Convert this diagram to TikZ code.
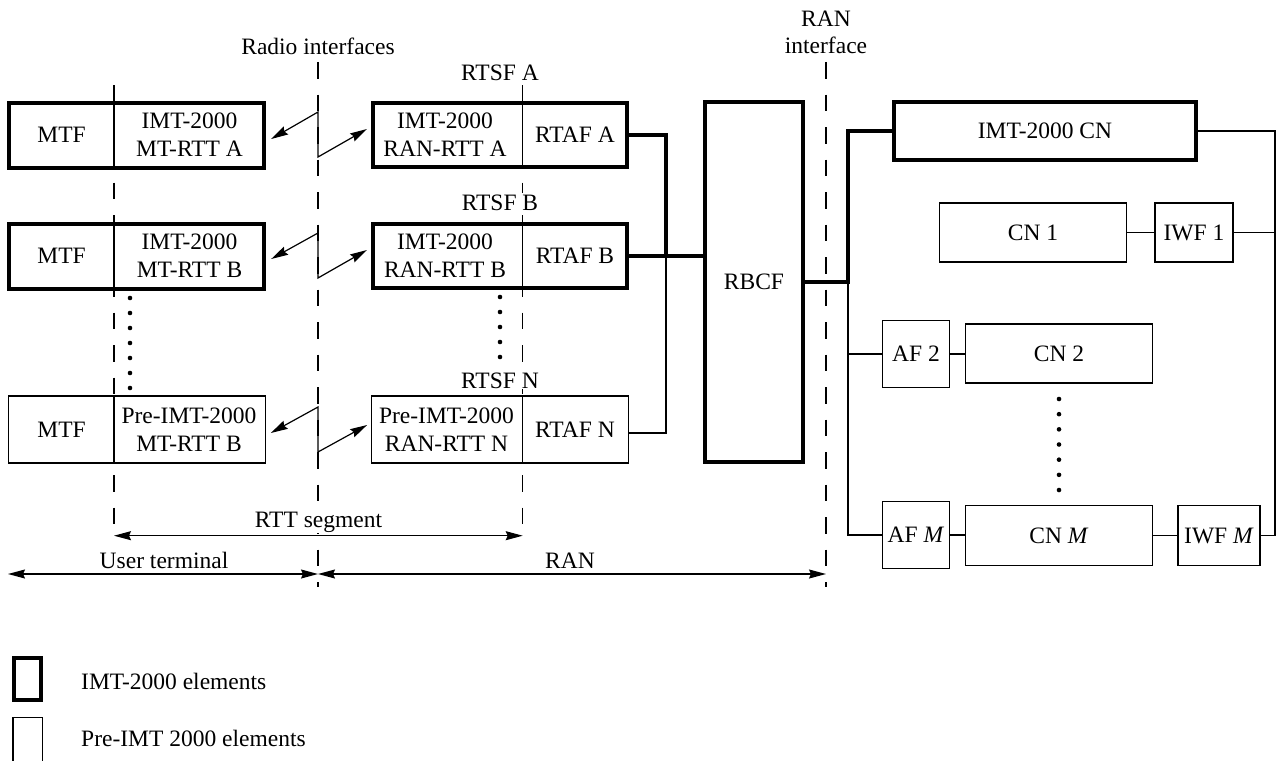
\documentclass[tikz,border=0pt]{standalone}
\usepackage{fontspec}
\setmainfont{Liberation Serif}
\usetikzlibrary{arrows.meta}
\begin{document}
\begin{tikzpicture}[x=1pt,y=-1pt,
  every node/.style={font=\fontsize{23.5}{27.7}\selectfont, inner sep=0pt},
  tbx/.style={draw, line width=4pt},
  bx/.style={draw, line width=1.2pt},
  thinline/.style={line width=1.2pt},
  thickline/.style={line width=4pt},
  dashln/.style={line width=1.2pt, dash pattern=on 16.5pt off 16pt},
  dbl/.style={line width=1.2pt, {Stealth[length=17pt,width=9pt,inset=2pt]}-{Stealth[length=17pt,width=9pt,inset=2pt]}},
  lbl/.style={fill=white, inner sep=1pt, anchor=base},
  dotm/.style={circle, fill, minimum size=4.6pt, inner sep=0pt}
]
\useasboundingbox (0,0) rectangle (1276,760);

% dashed interface lines
\coordinate (d1t) at (114,85);  \coordinate (d1b) at (114,540);
\coordinate (d2t) at (318,62);  \coordinate (d2b) at (318,587);
\coordinate (d3t) at (522.7,85);  \coordinate (d3b) at (522.7,540);
\coordinate (d4t) at (826,62);  \coordinate (d4b) at (826,587);
\draw[dashln] (d1t) -- (d1b);
\draw[dashln] (d2t) -- (d2b);
\draw[dashln] (d3t) -- (d3b);
\draw[dashln] (d4t) -- (d4b);

% top labels
\node[anchor=base] (lradio) at (318,55) {Radio interfaces};
\node[align=center] (lranif) at (826,32.5) {RAN\\interface};

% mobile terminal boxes
\node[tbx, minimum width=255pt, minimum height=65pt] (mA) at (136.7,135) {};
\node (mtfA) at (61.6,135) {MTF};
\node[align=center] (rttA) at (189.5,135) {IMT-2000\\MT-RTT A};
\draw[thinline] (mA.north -| d1t) -- (mA.south -| d1t);

\node[tbx, minimum width=255pt, minimum height=65pt] (mB) at (136.7,256) {};
\node (mtfB) at (61.6,256) {MTF};
\node[align=center] (rttB) at (189.5,256) {IMT-2000\\MT-RTT B};
\draw[thinline] (mB.north -| d1t) -- (mB.south -| d1t);

\node[bx, minimum width=257pt, minimum height=67pt] (mN) at (136.7,429.5) {};
\node (mtfN) at (61.6,429.5) {MTF};
\node[align=center] (rttN) at (189,429.5) {Pre-IMT-2000\\MT-RTT B};
\draw[thinline] (mN.north -| d1t) -- (mN.south -| d1t);

% RAN RTSF boxes
\node[lbl] (lsA) at (500,80) {RTSF A};
\node[tbx, minimum width=254pt, minimum height=64pt] (rA) at (500,134.5) {};
\node[align=center] (rrA) at (445,134.5) {IMT-2000\\RAN-RTT A};
\node (afA) at (575,134.5) {RTAF A};
\draw[thinline] (rA.north -| d3t) -- (rA.south -| d3t);

\node[lbl] (lsB) at (500,210) {RTSF B};
\node[tbx, minimum width=254pt, minimum height=64pt] (rB) at (500,256) {};
\node[align=center] (rrB) at (445,256) {IMT-2000\\RAN-RTT B};
\node (afB) at (575,256) {RTAF B};
\draw[thinline] (rB.north -| d3t) -- (rB.south -| d3t);

\node[lbl] (lsN) at (500,388) {RTSF N};
\node[bx, minimum width=256.6pt, minimum height=67pt] (rN) at (500,429.5) {};
\node[align=center] (rrN) at (446.5,429.5) {Pre-IMT-2000\\RAN-RTT N};
\node (afN) at (575,429.5) {RTAF N};
\draw[thinline] (rN.north -| d3t) -- (rN.south -| d3t);

% radio links
\coordinate (zAt) at (318,112); \coordinate (zAb) at (318,157);
\coordinate (zBt) at (318,233); \coordinate (zBb) at (318,278);
\coordinate (zNt) at (318,407); \coordinate (zNb) at (318,452);
\draw[dbl] ([xshift=5pt,yshift=-4pt]mA.east) -- (zAt) -- (zAb) -- ([xshift=-4pt,yshift=5.5pt]rA.west);
\draw[dbl] ([xshift=5pt,yshift=-3pt]mB.east) -- (zBt) -- (zBb) -- ([xshift=-4pt,yshift=6pt]rB.west);
\draw[dbl] ([xshift=5pt,yshift=-3.5pt]mN.east) -- (zNt) -- (zNb) -- ([xshift=-4pt,yshift=4.5pt]rN.west);

% dots
\foreach \i in {0,...,6} \node[dotm] (dl\i) at (130,298+15*\i) {};
\foreach \i in {0,...,4} \node[dotm] (dr\i) at (500,297+15*\i) {};
\foreach \i in {0,...,6} \node[dotm] (dc\i) at (1059,399+15.17*\i) {};

% RBCF
\node[tbx, minimum width=97.4pt, minimum height=360pt] (rbcf) at (754,281.5) {RBCF};
\coordinate (j1) at (666,256);
\draw[thickline] (rA.east) -| (j1);
\draw[thickline] (rB.east) -- (rB.east -| rbcf.west);
\draw[thinline] (j1) |- ([yshift=-3.5pt]rN.east);

% core network side
\node[tbx, minimum width=302pt, minimum height=58pt] (cn) at (1045,131) {IMT-2000 CN};
\node[bx, minimum width=187pt, minimum height=59pt] (cn1) at (1033,232.5) {CN 1};
\node[bx, minimum width=78pt, minimum height=59pt] (iwf1) at (1194,232.5) {IWF 1};
\node[bx, minimum width=67pt, minimum height=67pt] (af2) at (916,354) {AF 2};
\node[bx, minimum width=187pt, minimum height=59pt] (cn2) at (1059,353.5) {CN 2};
\node[bx, minimum width=67pt, minimum height=67pt] (afM) at (916,535) {AF \textit{M}};
\node[bx, minimum width=187pt, minimum height=60pt] (cnM) at (1059,535.5) {CN \textit{M}};
\node[bx, minimum width=82pt, minimum height=60pt] (iwfM) at (1219,535.5) {IWF \textit{M}};

\coordinate (j2) at (848,281.5);
\draw[thickline] (rbcf.east) -- (j2) |- (cn.west);
\draw[thinline] (j2) |- (af2.west);
\draw[thinline] (j2) |- (afM.west);
\draw[thinline] (af2.east) -- (af2.east -| cn2.west);
\draw[thinline] (afM.east) -- (afM.east -| cnM.west);
\draw[thinline] (cnM.east) -- (cnM.east -| iwfM.west);
\draw[thinline] (cn1.east) -- (cn1.east -| iwf1.west);
\coordinate (rc) at (1275,535.5);
\draw[thinline] (cn.east) -| (rc) -- (iwfM.east);
\draw[thinline] (iwf1.east) -- (iwf1.east -| rc);

% bottom extents
\coordinate (ut1) at (8,574);
\coordinate (ut2) at (318,574);
\coordinate (ran2) at (826,574);
\coordinate (rs1) at (114,535.7);
\coordinate (rs2) at (522.7,535.7);
\node[lbl] (lrtt) at (318.5,527.3) {RTT segment};
\draw[dbl] (rs1) -- (rs2);
\node[anchor=base] (lut) at (164,568) {User terminal};
\node[anchor=base] (lran) at (570,568) {RAN};
\draw[dbl] (ut1) -- (ut2);
\draw[dbl] (ut2) -- (ran2);

% legend
\node[tbx, minimum width=27.6pt, minimum height=42.3pt] (lg1) at (27.5,679) {};
\node[bx, minimum width=29.4pt, minimum height=48pt] (lg2) at (27.7,741.3) {};
\node[anchor=base west] (lt1) at (81,689) {IMT-2000 elements};
\node[anchor=base west] (lt2) at (81,746.5) {Pre-IMT 2000 elements};
\end{tikzpicture}
\end{document}
